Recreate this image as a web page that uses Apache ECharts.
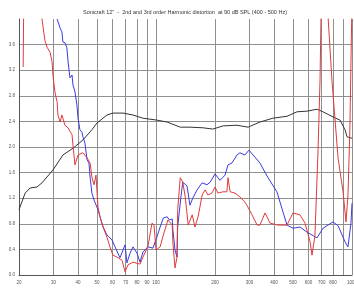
<!DOCTYPE html>
<html>
<head>
<meta charset="utf-8">
<script src="https://cdn.jsdelivr.net/npm/echarts@6/dist/echarts.min.js"></script>
<style>
  html, body { margin: 0; padding: 0; background: #fff; }
  #chart { width: 354px; height: 289px; }
</style>
</head>
<body>
<div id="chart"></div>
<script>
const freqTicks = [20, 30, 40, 50, 60, 70, 80, 90, 100, 200, 300, 400, 500, 600, 700, 800, 900, 1000];
const hiddenTickLabels = [900];

// [Hz, value]
const blackResponse = [
  [20, 1.02], [21.5, 1.28], [22.8, 1.36], [24.7, 1.375], [26.2, 1.44], [29.8, 1.64], [33.5, 1.875],
  [37.7, 1.98], [42.4, 2.11], [47.1, 2.27], [50, 2.375], [56.2, 2.5], [60.3, 2.53], [67.9, 2.53],
  [76.3, 2.5], [85.8, 2.45], [101, 2.42], [114, 2.39], [133, 2.31], [149, 2.31], [174, 2.30],
  [195, 2.28], [220, 2.33], [259, 2.34], [295, 2.31], [339, 2.39], [395, 2.45], [466, 2.48],
  [524, 2.55], [589, 2.56], [663, 2.59], [711, 2.55], [800, 2.47], [869, 2.42], [921, 2.27],
  [943, 2.16], [988, 2.14], [1000, 2.14]
];

const blue2nd = [
  [31.3, 4.0], [32.4, 3.86], [33.1, 3.80], [33.5, 3.64], [34.3, 3.63], [35.1, 3.55], [35.6, 3.33],
  [36.4, 3.08], [37.3, 3.125], [37.7, 2.97], [38.6, 2.86], [39.5, 2.66], [40.0, 2.45], [40.9, 2.27],
  [41.9, 2.23], [42.4, 2.16], [43.4, 2.06], [44.5, 1.80], [45.5, 1.75], [46.1, 1.53], [47.1, 1.28],
  [48.3, 1.17], [49.4, 1.14], [50.6, 1.02], [51.8, 0.91], [53.7, 0.75], [56.2, 0.625], [59.6, 0.55],
  [61.8, 0.44], [65.5, 0.27], [69.5, 0.47], [71.1, 0.19], [73.7, 0.34], [76.3, 0.44], [80.0, 0.34],
  [82.9, 0.20], [85.8, 0.36], [91.0, 0.44], [96.5, 0.42], [101, 0.59], [105, 0.75], [109, 0.89],
  [114, 0.91], [117, 0.86], [121, 0.875], [122, 0.70], [125, 0.39], [128, 0.28], [129, 0.75],
  [134, 1.22], [137, 1.45], [144, 1.39], [149, 1.09], [154, 1.20], [162, 1.33], [172, 1.44],
  [182, 1.41], [189, 1.45], [200, 1.58], [212, 1.48], [225, 1.56], [233, 1.72], [244, 1.75],
  [259, 1.875], [268, 1.91], [284, 1.875], [298, 1.95], [313, 1.875], [339, 1.75], [373, 1.52],
  [414, 1.30], [445, 0.98], [466, 0.78], [500, 0.73], [543, 0.75], [589, 0.67], [625, 0.625],
  [663, 0.58], [711, 0.73], [800, 0.83], [849, 0.77], [921, 0.52], [954, 0.44], [988, 0.81],
  [1000, 1.12]
];

const red3rd = [
  [21.0, 3.25], [21.2, 4.6], [25.8, 4.6], [26.2, 4.0], [27.1, 3.67], [27.8, 3.56], [28.8, 3.48],
  [29.5, 3.33], [29.8, 3.125], [30.5, 2.86], [31.3, 2.70], [31.6, 2.5], [32.4, 2.39], [33.1, 2.5],
  [33.5, 2.45], [34.3, 2.34], [35.6, 2.30], [37.3, 2.19], [37.7, 2.03], [38.6, 1.72], [40.0, 1.875],
  [42.4, 1.91], [44.5, 1.83], [46.1, 1.75], [47.1, 1.53], [48.3, 1.41], [49.4, 1.56], [50.6, 1.06],
  [51.8, 0.91], [53.7, 0.75], [56.2, 0.59], [58.2, 0.44], [60.3, 0.31], [63.2, 0.28], [67.1, 0.23],
  [69.5, 0.05], [72.0, 0.16], [76.3, 0.20], [82.9, 0.17], [85.8, 0.28], [91.0, 0.45], [95.4, 0.81],
  [97.7, 0.78], [100, 0.39], [105, 0.44], [109, 0.625], [115, 0.86], [121, 0.78], [122, 0.5],
  [125, 0.11], [128, 0.28], [129, 1.02], [133, 1.52], [137, 1.45], [141, 1.22], [146, 0.78],
  [149, 0.81], [153, 0.94], [158, 0.75], [164, 0.91], [172, 1.25], [178, 1.33], [184, 1.25],
  [193, 1.28], [200, 1.375], [207, 1.28], [220, 1.30], [230, 1.30], [233, 1.52], [239, 1.30],
  [253, 1.28], [268, 1.22], [284, 1.14], [291, 1.09], [309, 0.94], [328, 0.78], [339, 0.78],
  [360, 0.97], [382, 0.81], [419, 0.78], [466, 0.78], [500, 0.97], [543, 0.94], [576, 0.81],
  [611, 0.52], [625, 0.31], [647, 0.61], [671, 1.95], [687, 3.05], [695, 4.06], [705, 4.8],
  [740, 4.8], [754, 4.06], [791, 3.02], [849, 1.83], [900, 1.30], [932, 0.83], [954, 1.25],
  [975, 2.27], [1000, 4.3]
];

const chart = echarts.init(document.getElementById('chart'));

const gridLine = { show: true, lineStyle: { color: '#8f8f8f', width: 1 } };

chart.setOption({
  animation: false,
  title: {
    text: 'Sonicraft 12"  -  2nd and 3rd order Harmonic distortion  at 90 dB SPL (400 - 500 Hz)',
    left: 180,
    textAlign: 'center',
    top: 4,
    textStyle: { fontSize: 5.5, fontWeight: 'normal', color: '#333', fontFamily: 'Liberation Sans' }
  },
  legend: {
    left: 4,
    top: 285,
    itemWidth: 8,
    itemHeight: 5,
    itemGap: 24,
    textStyle: { fontSize: 5, color: '#333' },
    data: ['Response', '2nd', '3rd']
  },
  grid: { left: 19, right: 2, top: 19, bottom: 14, containLabel: false, outerBoundsMode: 'none' },
  xAxis: {
    type: 'log',
    logBase: 10,
    min: 20,
    max: 1000,
    axisLine: { show: true, lineStyle: { color: '#555' } },
    axisTick: { show: false, customValues: freqTicks },
    axisLabel: {
      customValues: freqTicks.filter(f => !hiddenTickLabels.includes(f)),
      fontSize: 4.5,
      color: '#555',
      margin: 5,
      hideOverlap: false,
      formatter: v => String(Math.round(v))
    },
    splitLine: gridLine
  },
  yAxis: {
    type: 'value',
    min: 0,
    max: 4,
    interval: 0.4,
    name: '(%)',
    nameLocation: 'middle',
    nameGap: 14,
    nameRotate: 90,
    nameTextStyle: { fontSize: 4.5, color: '#555' },
    axisLine: { show: true, lineStyle: { color: '#555' } },
    axisTick: { show: false },
    axisLabel: {
      fontSize: 4.5,
      color: '#555',
      margin: 4,
      showMaxLabel: false,
      formatter: v => v.toFixed(1)
    },
    splitLine: Object.assign({ showMaxLine: false }, gridLine)
  },
  series: [
    {
      name: 'Response', type: 'line', data: blackResponse, showSymbol: false,
      lineStyle: { color: '#333', width: 1 }, itemStyle: { color: '#333' }
    },
    {
      name: '2nd', type: 'line', data: blue2nd, showSymbol: false,
      lineStyle: { color: '#3b3bdc', width: 1 }, itemStyle: { color: '#3b3bdc' }
    },
    {
      name: '3rd', type: 'line', data: red3rd, showSymbol: false,
      lineStyle: { color: '#e23a3a', width: 1 }, itemStyle: { color: '#e23a3a' }
    }
  ]
});
</script>
</body>
</html>
